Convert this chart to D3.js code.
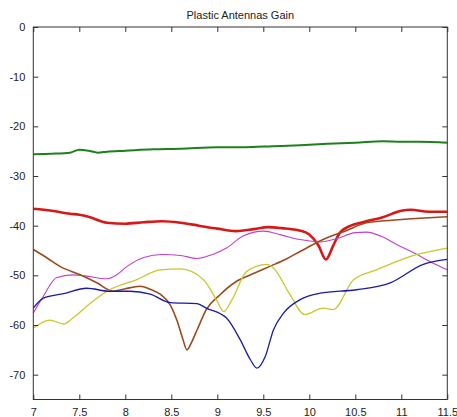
<!DOCTYPE html>
<html>
<head>
<meta charset="utf-8">
<script src="https://cdn.jsdelivr.net/npm/d3@7"></script>
<style>
  body { margin: 0; background: #fff; }
  text { font-family: "Liberation Sans", Arial, sans-serif; }
</style>
</head>
<body>
<div id="wrapper"></div>
<script>
// frequency / gain samples
const greenX = [7, 7.2, 7.4, 7.5, 7.6, 7.7, 7.8, 8, 8.3, 8.6, 9, 9.3, 9.6, 9.9, 10.2, 10.5, 10.8, 11, 11.2, 11.5];
const greenY = [-25.6, -25.5, -25.3, -24.7, -24.9, -25.3, -25.1, -24.9, -24.6, -24.5, -24.2, -24.2, -24.0, -23.8, -23.5, -23.3, -23.0, -23.1, -23.1, -23.3];

const redX = [7, 7.2, 7.4, 7.5, 7.6, 7.8, 8.0, 8.2, 8.4, 8.6, 8.8, 9.0, 9.2, 9.4, 9.55, 9.7, 9.9, 10.0, 10.1, 10.18, 10.26, 10.33, 10.45, 10.6, 10.8, 11.0, 11.1, 11.3, 11.5];
const redY = [-36.6, -37.0, -37.6, -37.8, -38.2, -39.4, -39.6, -39.3, -39.1, -39.4, -40.0, -40.6, -41.1, -40.7, -40.3, -40.5, -41.0, -41.8, -44.0, -46.8, -44.0, -41.5, -40.0, -39.2, -38.3, -37.0, -36.8, -37.2, -37.2];

const magentaX = [7, 7.05, 7.11, 7.18, 7.25, 7.43, 7.56, 7.8, 7.9, 8.02, 8.2, 8.4, 8.6, 8.78, 8.95, 9.1, 9.28, 9.5, 9.7, 9.9, 10.12, 10.3, 10.5, 10.62, 10.8, 10.95, 11.15, 11.31, 11.5];
const magentaY = [-57.6, -56, -54.2, -52, -50.5, -49.9, -50.1, -50.7, -50, -48.2, -46.4, -45.8, -46.0, -46.6, -45.8, -44.5, -42.1, -41.1, -41.9, -42.8, -43.3, -42.6, -41.4, -41.3, -42.3, -43.8, -45.6, -47.2, -48.9];

const brownX = [7, 7.15, 7.29, 7.51, 7.69, 7.87, 8.0, 8.16, 8.27, 8.38, 8.49, 8.56, 8.62, 8.67, 8.72, 8.78, 8.88, 9.03, 9.21, 9.4, 9.57, 9.75, 9.9, 10.15, 10.4, 10.62, 10.9, 11.2, 11.5];
const brownY = [-44.8, -46.5, -48.2, -49.9, -51.5, -53.2, -52.7, -52.2, -52.8, -53.8, -56.0, -59, -62.5, -65, -63.5, -61, -56.9, -53.9, -51.2, -49.6, -48.2, -46.7, -45.2, -42.8, -41.0, -39.4, -38.9, -38.5, -38.2];

const yellowX = [7, 7.18, 7.33, 7.43, 7.62, 7.83, 8.12, 8.38, 8.6, 8.85, 8.99, 9.07, 9.16, 9.32, 9.54, 9.61, 9.79, 9.95, 10.15, 10.26, 10.48, 10.73, 11.17, 11.5];
const yellowY = [-60.6, -59, -59.8, -58.6, -55.6, -52.9, -50.9, -48.9, -48.7, -50.9, -54.9, -57.3, -54.9, -49.2, -47.8, -48.5, -53.9, -57.9, -56.6, -56.9, -50.9, -48.9, -45.8, -44.5];

const blueX = [7, 7.11, 7.33, 7.58, 7.83, 8.05, 8.27, 8.49, 8.78, 8.88, 9.1, 9.25, 9.36, 9.43, 9.52, 9.61, 9.72, 9.9, 10.12, 10.51, 10.88, 11.24, 11.5];
const blueY = [-56.6, -54.6, -53.7, -52.6, -53.2, -53.2, -53.8, -55.5, -55.7, -56.6, -58.6, -63.0, -67.0, -68.7, -66.4, -61.0, -57.6, -54.9, -53.6, -52.9, -51.5, -47.8, -46.8];

const xTicks = [7, 7.5, 8, 8.5, 9, 9.5, 10, 10.5, 11, 11.5];
const yTicks = [0, -10, -20, -30, -40, -50, -60, -70];

const series = [
  { xs: greenX, ys: greenY, color: "#1c801c", w: 2 },
  { xs: redX, ys: redY, color: "#d81818", w: 2.6 },
  { xs: magentaX, ys: magentaY, color: "#c040c8", w: 1.1 },
  { xs: brownX, ys: brownY, color: "#9a4a1e", w: 1.6 },
  { xs: yellowX, ys: yellowY, color: "#c8c828", w: 1.3 },
  { xs: blueX, ys: blueY, color: "#1a1aa8", w: 1.3 }
];

const width = 457, height = 417;
const mLeft = 33.3, mRight = 447.3, mTop = 27, mBottom = 399.5;

const svg = d3.select("#wrapper").append("svg")
  .attr("width", width)
  .attr("height", height);

const xScale = d3.scaleLinear().domain([7, 11.5]).range([mLeft, mRight]);
const yScale = d3.scaleLinear().domain([-75, 0]).range([mBottom, mTop]);

const line = d3.line()
  .x(d => xScale(d[0]))
  .y(d => yScale(d[1]))
  .curve(d3.curveMonotoneX);

series.forEach(s => {
  const pts = s.xs.map((x, i) => [x, s.ys[i]]);
  svg.append("path")
    .datum(pts)
    .attr("fill", "none")
    .attr("stroke", s.color)
    .attr("stroke-width", s.w)
    .attr("d", line);
});

// box
svg.append("rect")
  .attr("x", mLeft).attr("y", mTop)
  .attr("width", mRight - mLeft).attr("height", mBottom - mTop)
  .attr("fill", "none").attr("stroke", "#333").attr("stroke-width", 1);

const tickLen = 5;
const plain = d => String(d); // hyphen minus, like the original
// ticks point inward on all four sides
svg.append("g")
  .attr("transform", `translate(0,${mBottom})`)
  .call(d3.axisBottom(xScale).tickValues(xTicks).tickSizeInner(-tickLen).tickSizeOuter(0).tickPadding(9).tickFormat(plain))
  .call(g => g.select(".domain").remove());
svg.append("g")
  .attr("transform", `translate(0,${mTop})`)
  .call(d3.axisTop(xScale).tickValues(xTicks).tickSizeInner(-tickLen).tickSizeOuter(0).tickFormat(""))
  .call(g => g.select(".domain").remove());
svg.append("g")
  .attr("transform", `translate(${mLeft},0)`)
  .call(d3.axisLeft(yScale).tickValues(yTicks).tickSizeInner(-tickLen).tickSizeOuter(0).tickPadding(8).tickFormat(plain))
  .call(g => g.select(".domain").remove());
svg.append("g")
  .attr("transform", `translate(${mRight},0)`)
  .call(d3.axisRight(yScale).tickValues(yTicks).tickSizeInner(-tickLen).tickSizeOuter(0).tickFormat(""))
  .call(g => g.select(".domain").remove());

svg.selectAll(".tick line").attr("stroke", "#333");
svg.selectAll(".tick text")
  .attr("fill", "#222")
  .style("font-size", "11px")
  .style("font-family", "'Liberation Sans', Arial, sans-serif");

svg.append("text")
  .attr("x", (mLeft + mRight) / 2)
  .attr("y", 19)
  .attr("text-anchor", "middle")
  .attr("fill", "#222")
  .style("font-size", "11px")
  .text("Plastic Antennas Gain");
</script>
</body>
</html>
